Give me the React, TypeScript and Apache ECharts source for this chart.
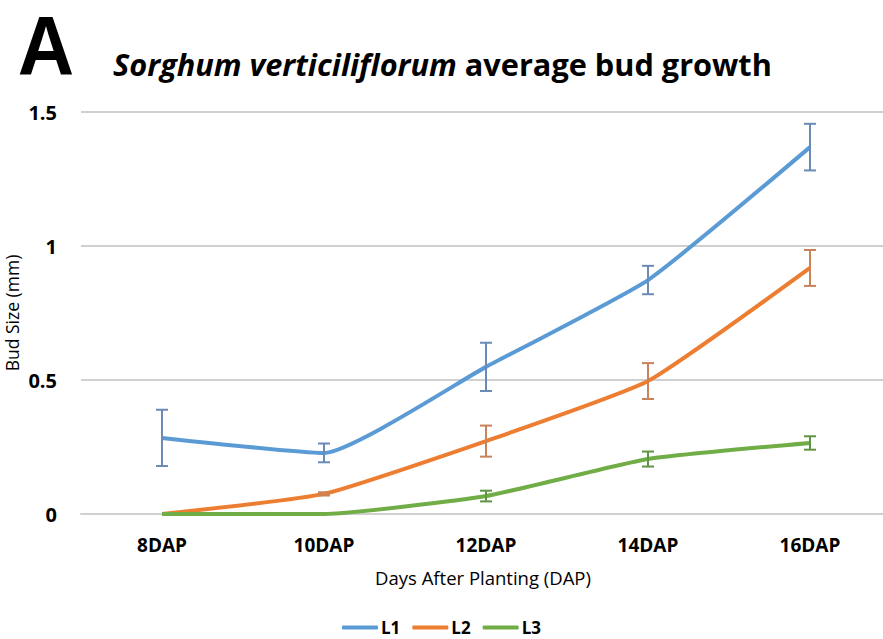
import React, { useEffect, useRef } from "react";
import * as echarts from "echarts";

const categories = ["8DAP", "10DAP", "12DAP", "14DAP", "16DAP"];
const seriesNames = ["L1", "L2", "L3"];
const l1Values = [0.284, 0.228, 0.549, 0.873, 1.369];
const l1Errors = [0.105, 0.035, 0.09, 0.053, 0.087];
const l2Values = [0, 0.075, 0.272, 0.496, 0.918];
const l2Errors = [0, 0.006, 0.058, 0.067, 0.067];
const l3Values = [0, 0, 0.067, 0.205, 0.265];
const l3Errors = [0, 0, 0.02, 0.028, 0.025];
const yTicks = [0, 0.5, 1, 1.5];

const lineColors = ["#5B9BD5", "#ED7D31", "#70AD47"];
const errColors = ["#6A8BB5", "#C9825A", "#5F9442"];

export default function App() {
  const ref = useRef<HTMLDivElement>(null);
  useEffect(() => {
    if (!ref.current) return;
    const chart = echarts.init(ref.current, null, { renderer: "svg" });
    const values = [l1Values, l2Values, l3Values];
    const errors = [l1Errors, l2Errors, l3Errors];
    const font = "'Open Sans', 'Noto Sans', sans-serif";

    const lineSeries = seriesNames.map((name, i) => ({
      name,
      type: "line",
      data: values[i],
      symbol: "none",
      smooth: 0.15,
      lineStyle: { color: lineColors[i], width: 4 },
      itemStyle: { color: lineColors[i] },
      z: 3,
    }));

    const errSeries = seriesNames.map((name, i) => ({
      name: name + " error",
      type: "custom",
      data: values[i]
        .map((v, k) => [k, v - errors[i][k], v + errors[i][k], errors[i][k]])
        .filter((d) => d[3] > 0),
      z: 4,
      renderItem: (params: any, api: any) => {
        const x = api.value(0);
        const lo = api.coord([x, api.value(1)]);
        const hi = api.coord([x, api.value(2)]);
        const hw = 6;
        const style = { stroke: errColors[i], lineWidth: 2 };
        return {
          type: "group",
          children: [
            { type: "line", shape: { x1: lo[0], y1: lo[1], x2: hi[0], y2: hi[1] }, style },
            { type: "line", shape: { x1: lo[0] - hw, y1: lo[1], x2: lo[0] + hw, y2: lo[1] }, style },
            { type: "line", shape: { x1: hi[0] - hw, y1: hi[1], x2: hi[0] + hw, y2: hi[1] }, style },
          ],
        };
      },
    }));

    chart.setOption({
      animation: false,
      backgroundColor: "#ffffff",
      graphic: [
        {
          type: "text",
          x: 46,
          y: 46,
          scaleX: 0.93,
          style: {
            text: "A",
            font: `bold 84px 'Liberation Sans', Arial, sans-serif`,
            lineHeight: 84,
            fill: "#000",
            align: "center",
            verticalAlign: "middle",
          },
        },
        {
          type: "text",
          x: 113,
          y: 64,
          style: {
            text: "{i|Sorghum verticiliflorum}{n| average bud growth}",
            verticalAlign: "middle",
            rich: {
              i: { fontFamily: font, fontSize: 30.7, fontWeight: "bold", fontStyle: "italic", fill: "#000", color: "#000" },
              n: { fontFamily: font, fontSize: 30.7, fontWeight: "bold", fill: "#000", color: "#000" },
            },
          },
        },
        {
          type: "text",
          x: 12,
          y: 313,
          rotation: Math.PI / 2,
          style: {
            text: "Bud Size (mm)",
            font: `17.5px ${font}`,
            fill: "#000",
            align: "center",
            verticalAlign: "middle",
          },
        },
      ],
      legend: {
        data: seriesNames,
        bottom: -2,
        left: "center",
        icon: "roundRect",
        itemWidth: 36,
        itemHeight: 4,
        itemGap: 12,
        textStyle: { fontFamily: font, fontSize: 17, fontWeight: "bold", color: "#000", padding: [0, 0, 0, -2] },
      },
      grid: {
        left: 81,
        top: 112,
        width: 810,
        height: 402,
        containLabel: false,
        outerBoundsMode: "none",
      },
      xAxis: {
        type: "category",
        data: categories,
        boundaryGap: true,
        axisLine: { lineStyle: { color: "#d0d0d0", width: 2 } },
        axisTick: { show: false },
        axisLabel: { fontFamily: font, fontSize: 19, fontWeight: "bold", color: "#000", margin: 21 },
        name: "Days After Planting (DAP)",
        nameLocation: "middle",
        nameGap: 54,
        nameTextStyle: { fontFamily: font, fontSize: 18.5, color: "#000", padding: [0, 0, 0, -6] },
      },
      yAxis: {
        type: "value",
        min: yTicks[0],
        max: yTicks[yTicks.length - 1],
        interval: 0.5,
        axisLine: { show: false },
        axisTick: { show: false },
        splitLine: { lineStyle: { color: "#d0d0d0", width: 2 } },
        axisLabel: { fontFamily: font, fontSize: 20, fontWeight: "bold", color: "#000", margin: 24 },
      },
      series: [...lineSeries, ...errSeries],
    });
    return () => chart.dispose();
  }, []);
  return (
    <div
      ref={ref}
      style={{ width: 883, height: 639, position: "fixed", left: 0, top: 0 }}
    />
  );
}
